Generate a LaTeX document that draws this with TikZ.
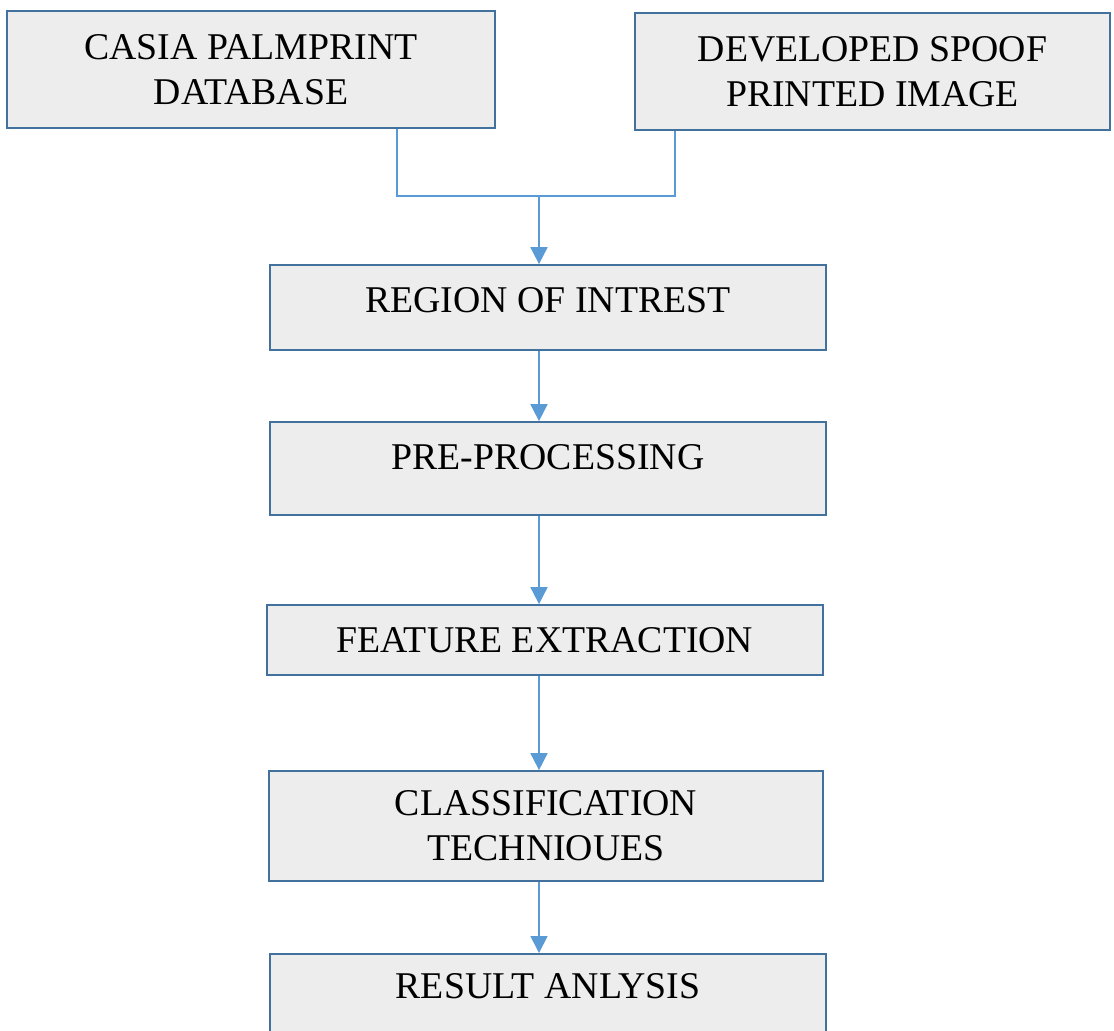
\documentclass[tikz,border=0pt]{standalone}
\usepackage{fontspec}
\setmainfont{Liberation Serif}
\usepackage{xcolor}
\usetikzlibrary{shapes,arrows.meta,positioning}

\definecolor{boxline}{HTML}{41719C}
\definecolor{boxfill}{HTML}{EDEDED}
\definecolor{flowline}{HTML}{5B9BD5}

\begin{document}
\begin{tikzpicture}[
    x=0.02cm, y=-0.02cm,
    stage/.style={rectangle, draw=boxline, line width=0.035cm, fill=boxfill, align=center,
        font=\fontsize{21.5}{25.8}\selectfont, minimum width=#1*0.02cm, inner sep=0pt},
    flow/.style={draw=flowline, line width=0.035cm},
    arr/.style={flow, -{Triangle[length=0.34cm, width=0.34cm]}}
]
    \useasboundingbox (0,0) rectangle (1114,1030);
    \clip (0,0) rectangle (1114,1030);

    % Sources
    \node[stage=488, minimum height=2.34cm] (casia) at (251,69.5) {CASIA PALMPRINT\\DATABASE};
    \node[stage=475, minimum height=2.34cm] (spoof) at (872.5,71.5) {DEVELOPED SPOOF\\PRINTED IMAGE};

    % Processing chain
    \node[stage=556, minimum height=1.7cm, text depth=0.3cm] (roi) at (548,307.5) {REGION OF INTREST};
    \node[stage=556, minimum height=1.86cm, text depth=0.45cm] (prep) at (548,468.5) {PRE-PROCESSING};
    \node[stage=556, minimum height=1.4cm] (feat) at (545,640) {FEATURE EXTRACTION};
    \node[stage=554, minimum height=2.2cm] (classif) at (546,826) {CLASSIFICATION\\TECHNIOUES};
    \node[stage=556, minimum height=1.9cm, text depth=0.6cm, anchor=north] (result) at (548,953) {RESULT ANLYSIS};

    % Connectors
    \coordinate (join) at (539,196);
    \draw[flow] ([xshift=2.92cm]casia.south) |- (join) -| ([xshift=-3.95cm]spoof.south);
    \draw[arr] (join) -- (join |- roi.north);
    \draw[arr] (join |- roi.south) -- (join |- prep.north);
    \draw[arr] (join |- prep.south) -- (join |- feat.north);
    \draw[arr] (join |- feat.south) -- (join |- classif.north);
    \draw[arr] (join |- classif.south) -- (join |- result.north);
\end{tikzpicture}
\end{document}
